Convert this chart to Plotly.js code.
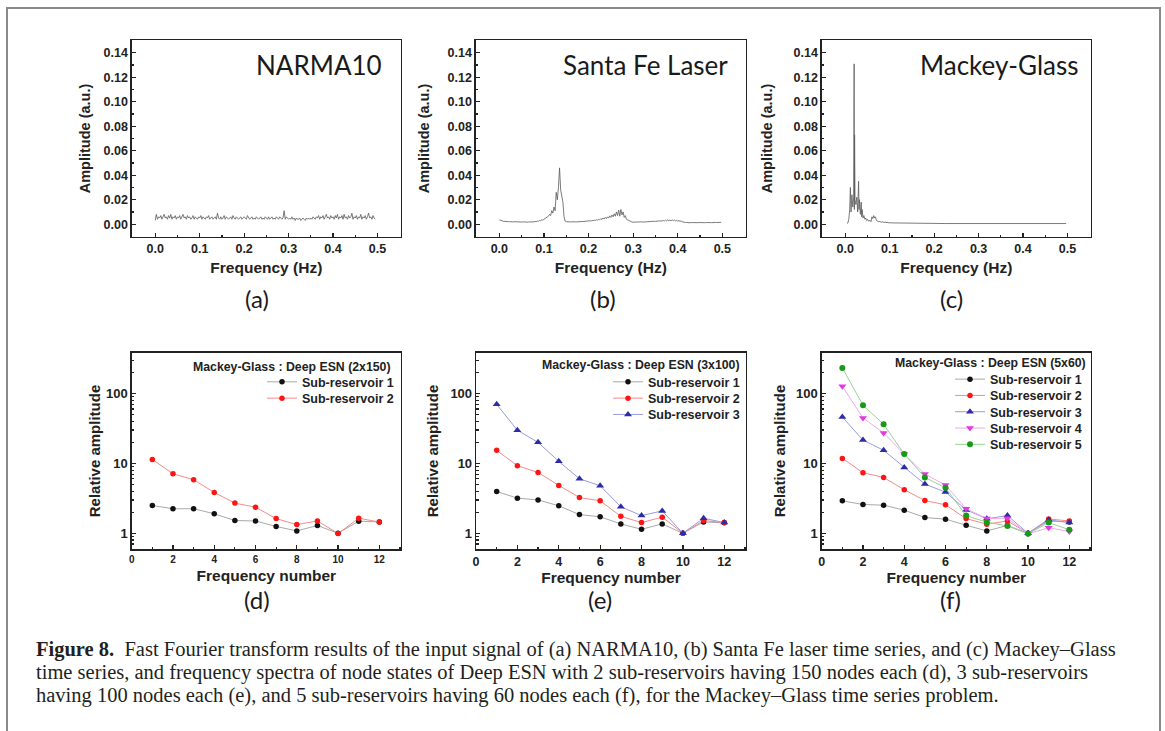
<!DOCTYPE html>
<html>
<head>
<meta charset="utf-8">
<script src="https://cdn.plot.ly/plotly-3.0.1.min.js"></script>
<style>
html,body{margin:0;padding:0;background:#fff;}
#chart{width:1165px;height:731px;}
</style>
</head>
<body>
<div id="chart"></div>
<script>
// ---------------- DATA ----------------
// Top panels: FFT amplitude spectra (uniform frequency grid, start 0 Hz, step 0.0025 Hz)
const spectrumStart = 0;
const spectrumStep = 0.0025;
const narmaAmp = [
0.003,0.008,0.004,0.006,0.005,0.007,0.004,0.006,0.008,0.005,0.006,0.004,0.007,0.005,0.008,0.004,0.006,0.005,0.007,0.004,
0.006,0.005,0.007,0.004,0.006,0.008,0.005,0.006,0.004,0.007,0.005,0.006,0.004,0.005,0.007,0.004,0.006,0.005,0.004,0.006,
0.005,0.007,0.004,0.006,0.005,0.004,0.006,0.005,0.007,0.004,0.005,0.006,0.004,0.005,0.006,0.004,0.009,0.005,0.004,0.006,
0.004,0.005,0.007,0.004,0.006,0.005,0.004,0.005,0.006,0.004,0.007,0.005,0.004,0.006,0.005,0.004,0.005,0.006,0.004,0.005,
0.006,0.005,0.004,0.007,0.005,0.004,0.005,0.006,0.004,0.005,0.004,0.006,0.005,0.004,0.005,0.006,0.004,0.005,0.004,0.006,
0.005,0.004,0.006,0.004,0.005,0.006,0.004,0.005,0.004,0.006,0.005,0.004,0.006,0.005,0.004,0.005,0.011,0.004,0.006,0.005,
0.004,0.005,0.004,0.006,0.004,0.005,0.003,0.005,0.004,0.004,0.005,0.003,0.004,0.005,0.004,0.003,0.005,0.004,0.005,0.004,
0.005,0.004,0.006,0.005,0.004,0.006,0.005,0.007,0.004,0.006,0.005,0.007,0.004,0.006,0.008,0.005,0.006,0.004,0.007,0.005,
0.006,0.004,0.007,0.005,0.008,0.004,0.006,0.005,0.007,0.004,0.008,0.005,0.006,0.004,0.007,0.005,0.006,0.009,0.004,0.006,
0.005,0.007,0.004,0.006,0.005,0.008,0.004,0.006,0.005,0.007,0.004,0.006,0.009,0.005,0.006,0.004,0.007,0.005,0.004
];
const santaFeAmp = [
0.0035,0.003,0.0028,0.0025,0.0022,0.0023,0.002,0.0022,0.002,0.0021,0.0019,0.002,0.0018,0.002,0.0019,0.0018,0.002,0.0017,0.0019,0.0018,
0.0018,0.0017,0.0019,0.0017,0.0018,0.0016,0.0018,0.0017,0.0019,0.0018,0.002,0.0019,0.0022,0.002,0.0025,0.0023,0.003,0.0028,0.0035,0.0032,
0.004,0.0045,0.005,0.0055,0.0065,0.008,0.007,0.011,0.009,0.014,0.011,0.026,0.02,0.03,0.046,0.028,0.022,0.018,0.006,0.0025,
0.002,0.0018,0.0019,0.0017,0.0018,0.0019,0.0017,0.0018,0.0019,0.0018,0.002,0.0019,0.0021,0.002,0.0022,0.0021,0.0023,0.0022,0.0025,0.0024,
0.0026,0.0028,0.0025,0.003,0.0028,0.0033,0.003,0.0036,0.0032,0.004,0.0035,0.0045,0.0038,0.005,0.0042,0.0055,0.0045,0.006,0.005,0.0068,
0.0055,0.0075,0.006,0.0085,0.0065,0.01,0.007,0.0115,0.0065,0.012,0.0075,0.01,0.0055,0.007,0.004,0.0035,0.0025,0.002,0.0018,0.0017,
0.0016,0.0017,0.0015,0.0017,0.0016,0.0018,0.0016,0.0017,0.0019,0.0017,0.0018,0.002,0.0018,0.0021,0.0019,0.0022,0.002,0.0023,0.0021,0.0024,
0.0022,0.0025,0.0023,0.0027,0.0024,0.0028,0.0025,0.003,0.0026,0.0033,0.0027,0.0035,0.0028,0.0034,0.0027,0.0036,0.0028,0.0033,0.0026,0.0031,
0.0025,0.0029,0.0023,0.0026,0.002,0.0016,0.0014,0.0013,0.0014,0.0012,0.0013,0.0011,0.0013,0.0012,0.0011,0.0013,0.0012,0.0011,0.0012,0.0013,
0.0012,0.0011,0.0013,0.0012,0.0011,0.0012,0.0013,0.0011,0.0012,0.0013,0.0012,0.0014,0.0013,0.0012,0.0014,0.0013,0.0015,0.0014,0.0016,0.0015
];
const mackeyFreq = [
0.004,0.006,0.008,0.010,0.0115,0.013,0.015,0.017,0.019,0.020,0.0205,0.021,0.022,0.024,0.026,0.028,0.030,0.031,0.032,0.034,
0.036,0.037,0.038,0.040,0.042,0.044,0.046,0.048,0.050,0.052,0.054,0.056,0.058,0.060,0.062,0.064,0.066,0.068,0.070,0.072,
0.075,0.078,0.081,0.084,0.087,0.090,0.095,0.100,0.110,0.120,0.130,0.140,0.150,0.175,0.200,0.225,0.250,0.275,0.300,0.325,
0.350,0.375,0.400,0.425,0.450,0.475,0.497
];
const mackeyAmp = [
0.0006,0.001,0.004,0.012,0.030,0.010,0.024,0.014,0.022,0.131,0.012,0.073,0.020,0.016,0.022,0.010,0.035,0.012,0.020,0.008,
0.018,0.006,0.012,0.005,0.007,0.004,0.005,0.003,0.004,0.0025,0.003,0.003,0.002,0.006,0.0045,0.007,0.005,0.006,0.003,0.0025,
0.002,0.0022,0.0015,0.002,0.0014,0.0015,0.0012,0.0011,0.001,0.0009,0.0008,0.0008,0.0007,0.0006,0.0006,0.0005,0.0005,0.0005,0.0005,0.0005,
0.0005,0.0005,0.0005,0.0005,0.0005,0.0005,0.0005
];

// Bottom panels: relative amplitude of node-state spectra
const freqNumber = [1,2,3,4,5,6,7,8,9,10,11,12];
const d_sub1 = [2.5,2.24,2.24,1.9,1.52,1.5,1.25,1.08,1.29,1.0,1.49,1.45];
const d_sub2 = [11.4,7.1,5.83,3.84,2.7,2.36,1.62,1.33,1.5,0.99,1.64,1.45];
const e_sub1 = [3.96,3.18,3.0,2.47,1.85,1.72,1.36,1.14,1.36,1.0,1.45,1.41];
const e_sub2 = [15.4,9.26,7.43,4.83,3.25,2.91,1.75,1.42,1.7,1.0,1.52,1.42];
const e_sub3 = [70,29.8,20,10.7,6.03,4.78,2.39,1.79,2.09,1.0,1.64,1.42];
const f_sub1 = [2.91,2.58,2.52,2.14,1.68,1.59,1.3,1.08,1.29,1.0,1.5,1.45];
const f_sub2 = [11.8,7.35,6.3,4.19,2.94,2.55,1.62,1.35,1.5,1.0,1.6,1.5];
const f_sub3 = [46,21.6,15.4,8.7,5.05,3.88,2.16,1.61,1.79,1.0,1.55,1.42];
const f_sub4 = [127,44.7,27.3,13.6,7.03,4.89,2.24,1.62,1.64,0.98,1.2,1.06];
const f_sub5 = [233,68,36.3,13.6,6.3,4.47,1.79,1.44,1.27,0.98,1.42,1.12];

const seriesNames = ['Sub-reservoir 1','Sub-reservoir 2','Sub-reservoir 3','Sub-reservoir 4','Sub-reservoir 5'];
const panelTitles = ['NARMA10','Santa Fe Laser','Mackey-Glass'];
const legendTitles = ['Mackey-Glass : Deep ESN (2x150)','Mackey-Glass : Deep ESN (3x100)','Mackey-Glass : Deep ESN (5x60)'];
const panelLetters = ['(a)','(b)','(c)','(d)','(e)','(f)'];
const captionLines = [
 '<b>Figure 8.</b>  Fast Fourier transform results of the input signal of (a) NARMA10, (b) Santa Fe laser time series, and (c) Mackey–Glass',
 'time series, and frequency spectra of node states of Deep ESN with 2 sub-reservoirs having 150 nodes each (d), 3 sub-reservoirs',
 'having 100 nodes each (e), and 5 sub-reservoirs having 60 nodes each (f), for the Mackey–Glass time series problem.'
];

// ---------------- STYLE ----------------
const W = 1165, H = 731;
const px = v => v / W;
const py = v => 1 - v / H;
const SANS = 'Liberation Sans, Arial, sans-serif';
const HUM = 'Lato, Open Sans, sans-serif';
const SERIF = 'Liberation Serif, Times New Roman, serif';

const seriesStyle = [
  {mc:'#111111', lc:'#a8a8a8', sym:'circle', size:5.5},
  {mc:'#ff1414', lc:'#f58a8a', sym:'circle', size:5.5},
  {mc:'#2c2ca8', lc:'#9a9ae0', sym:'triangle-up', size:7},
  {mc:'#e23ae2', lc:'#f0a8f0', sym:'triangle-down', size:7},
  {mc:'#179a17', lc:'#94d494', sym:'circle', size:6}
];

const specLine = {color:'#5a5a5a', width:0.8};
const traces = [
  {x0:spectrumStart, dx:spectrumStep, y:narmaAmp, type:'scatter', mode:'lines', line:specLine, xaxis:'x', yaxis:'y', showlegend:false, hoverinfo:'skip'},
  {x0:spectrumStart, dx:spectrumStep, y:santaFeAmp, type:'scatter', mode:'lines', line:specLine, xaxis:'x2', yaxis:'y2', showlegend:false, hoverinfo:'skip'},
  {x:mackeyFreq, y:mackeyAmp, type:'scatter', mode:'lines', line:specLine, xaxis:'x3', yaxis:'y3', showlegend:false, hoverinfo:'skip'}
];

function addSeries(list, xa, ya, leg) {
  list.forEach((vals, i) => {
    const s = seriesStyle[i];
    traces.push({
      x: freqNumber, y: vals, type:'scatter', mode:'lines+markers',
      name: seriesNames[i], legend: leg,
      xaxis: xa, yaxis: ya,
      line: {color: s.lc, width: 1},
      marker: {color: s.mc, symbol: s.sym, size: s.size, line:{width:0}}
    });
  });
}
addSeries([d_sub1, d_sub2], 'x4', 'y4', 'legend');
addSeries([e_sub1, e_sub2, e_sub3], 'x5', 'y5', 'legend2');
addSeries([f_sub1, f_sub2, f_sub3, f_sub4, f_sub5], 'x6', 'y6', 'legend3');

const colX = [[131.7,401],[475.7,746],[821.7,1091]];
const topY = [py(237), py(40)];
const botY = [py(549.3), py(352.7)];
const topTitleStandoff = [9, 14, 17];
const botTitleStandoff = [1, 8, 6];

const axisBase = {
  showline:true, linecolor:'#222', linewidth:1.3, mirror:true,
  ticks:'inside', ticklen:4, tickwidth:1.2, tickcolor:'#222',
  showgrid:false, zeroline:false,
  tickfont:{family:SANS, size:12.5, color:'#222', weight:'bold'}
};

const layout = {
  width:W, height:H,
  margin:{l:0,r:0,t:0,b:0},
  paper_bgcolor:'#fff', plot_bgcolor:'#fff',
  showlegend:true,
  annotations:[], shapes:[]
};

for (let c = 0; c < 3; c++) {
  const n = c === 0 ? '' : String(c+1);
  layout['xaxis'+n] = Object.assign({}, axisBase, {
    domain:[px(colX[c][0]), px(colX[c][1])], anchor:'y'+n,
    range:[-0.053, 0.553], tickvals:[0,0.1,0.2,0.3,0.4,0.5], tickformat:'.1f',
    minor:{tickvals:[0.05,0.15,0.25,0.35,0.45], ticks:'inside', ticklen:2.5, tickcolor:'#222'},
    title:{text:'Frequency (Hz)', standoff:7, font:{family:SANS, size:15.5, color:'#222', weight:'bold'}}
  });
  layout['yaxis'+n] = Object.assign({}, axisBase, {
    domain:topY, anchor:'x'+n,
    range:[-0.0105, 0.1505], tickvals:[0,0.02,0.04,0.06,0.08,0.1,0.12,0.14], tickformat:'.2f',
    minor:{tickvals:[0.01,0.03,0.05,0.07,0.09,0.11,0.13,0.15], ticks:'inside', ticklen:2.5, tickcolor:'#222'},
    title:{text:'Amplitude (a.u.)', standoff:topTitleStandoff[c], font:{family:SANS, size:14.5, color:'#222', weight:'bold'}}
  });
  const m = String(c+4);
  const xfs = c === 0 ? 10 : 12.5;
  layout['xaxis'+m] = Object.assign({}, axisBase, {
    domain:[px(c===1 ? 476 : colX[c][0]), px(colX[c][1])], anchor:'y'+m,
    range:[0, 13.05], tickvals:[0,2,4,6,8,10,12],
    minor:{tickvals:[1,3,5,7,9,11,13], ticks:'inside', ticklen:2.5, tickcolor:'#222'},
    tickfont:{family:SANS, size:xfs, color:'#222', weight:'bold'},
    title:{text:'Frequency number', standoff:c===0 ? 6 : 3, font:{family:SANS, size:15.5, color:'#222', weight:'bold'}}
  });
  layout['yaxis'+m] = Object.assign({}, axisBase, {
    domain:botY, anchor:'x'+m, type:'log',
    range:[-0.23, 2.585], tickvals:[1,10,100], ticktext:['1','10','100'],
    minor:{tickvals:[0.6,0.7,0.8,0.9,2,3,4,5,6,7,8,9,20,30,40,50,60,70,80,90,200,300], ticks:'inside', ticklen:2.5, tickcolor:'#222'},
    tickfont:{family:SANS, size:13, color:'#222', weight:'bold'},
    title:{text:'Relative amplitude', standoff:botTitleStandoff[c], font:{family:SANS, size:15, color:'#222', weight:'bold'}}
  });
}

// Legends
const legFont = {family:SANS, size:12.5, color:'#222', weight:'bold'};
const legendPos = [[399, 367.2],[745, 367.2],[1087, 364.5]];
const legendIds = ['legend','legend2','legend3'];
legendIds.forEach((k, i) => {
  layout[k] = {
    x:px(legendPos[i][0]), xanchor:'right', y:py(legendPos[i][1]), yanchor:'top',
    bgcolor:'rgba(0,0,0,0)', borderwidth:0, font:legFont,
    tracegroupgap:0, itemwidth:30, itemclick:false
  };
});
const legendRowPitch = 16.3;

// Legend titles (annotations)
const legTitlePos = [[393, 366.7],[741.7, 365],[1088.3, 363.3]];
legendTitles.forEach((t, i) => {
  layout.annotations.push({
    text:t, xref:'paper', yref:'paper', x:px(legTitlePos[i][0]), y:py(legTitlePos[i][1]),
    xanchor:'right', yanchor:'middle', showarrow:false,
    font:{family:SANS, size:12.3, color:'#222', weight:'bold'}
  });
});

// Panel titles in top plots
const ptPos = [[384, 65],[730, 65],[1080, 65]];
panelTitles.forEach((t, i) => {
  layout.annotations.push({
    text:t, xref:'paper', yref:'paper', x:px(ptPos[i][0]), y:py(ptPos[i][1]),
    xanchor:'right', yanchor:'middle', showarrow:false,
    font:{family:HUM, size:26, color:'#1a1a1a'}
  });
});

// Panel letters
const letterPos = [[257, 298],[603, 298],[952, 298],[257, 599],[600, 599],[950, 599]];
panelLetters.forEach((t, i) => {
  layout.annotations.push({
    text:t, xref:'paper', yref:'paper', x:px(letterPos[i][0]), y:py(letterPos[i][1]),
    xanchor:'center', yanchor:'middle', showarrow:false,
    font:{family:HUM, size:24, color:'#1a1a1a'}
  });
});

// Caption
const capY = [649, 672, 695];
captionLines.forEach((t, i) => {
  layout.annotations.push({
    text:t, xref:'paper', yref:'paper', x:px(34), y:py(capY[i]),
    xanchor:'left', yanchor:'middle', showarrow:false, align:'left',
    font:{family:SERIF, size:20.5, color:'#231f20'}
  });
});

// Outer frame
layout.shapes.push({
  type:'rect', xref:'paper', yref:'paper',
  x0:px(7), x1:px(1160), y0:-0.05, y1:py(8),
  line:{color:'#8a8a8a', width:2}, fillcolor:'rgba(0,0,0,0)', layer:'below'
});

Plotly.newPlot('chart', traces, layout, {displayModeBar:false, staticPlot:true}).then(gd => {
  // tighten legend row pitch to match the original figure
  legendIds.forEach(id => {
    const lg = gd.querySelector('g.' + id);
    if (!lg) return;
    const rows = Array.from(lg.querySelectorAll('g.traces'));
    let y0 = null;
    rows.forEach((r, i) => {
      const m = /translate\(\s*([-\d.]+)[ ,]+([-\d.]+)\s*\)/.exec(r.getAttribute('transform') || '');
      if (!m) return;
      const x = parseFloat(m[1]), y = parseFloat(m[2]);
      if (y0 === null) y0 = y;
      r.setAttribute('transform', 'translate(' + x + ',' + (y0 + i * legendRowPitch) + ')');
    });
  });
});
</script>
</body>
</html>
